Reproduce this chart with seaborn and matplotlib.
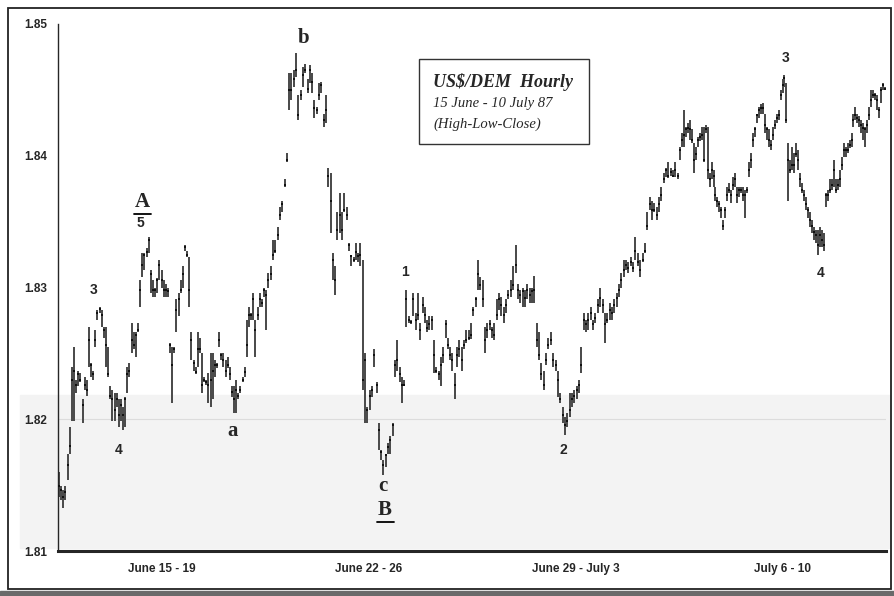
import numpy as np
import pandas as pd
import matplotlib
matplotlib.use("Agg")
import matplotlib.pyplot as plt
import matplotlib.transforms as mtransforms
from matplotlib.patches import Rectangle
from matplotlib.lines import Line2D
import seaborn as sns

# Hourly US$/DEM bars, one list per week (high, low, close)
week_labels = ['June 15 - 19', 'June 22 - 26', 'June 29 - July 3', 'July 6 - 10']

w1_close = [1.8149, 1.8146, 1.8141, 1.8145, 1.8165, 1.8180, 1.8230, 1.8237, 1.8226, 1.8234,
            1.8230, 1.8211, 1.8226, 1.8222, 1.8260, 1.8241, 1.8234, 1.8260, 1.8281, 1.8284,
            1.8279, 1.8268, 1.8256, 1.8234, 1.8218, 1.8215, 1.8207, 1.8215, 1.8203, 1.8211,
            1.8203, 1.8215, 1.8234, 1.8237, 1.8260, 1.8256, 1.8264, 1.8268, 1.8298, 1.8317,
            1.8325, 1.8327, 1.8336, 1.8310, 1.8298, 1.8298, 1.8306, 1.8317, 1.8306, 1.8298,
            1.8298, 1.8297, 1.8256, 1.8241, 1.8253, 1.8283, 1.8291, 1.8298, 1.8310, 1.8331,
            1.8325, 1.8298, 1.8260, 1.8243, 1.8236, 1.8253, 1.8253, 1.8226, 1.8230, 1.8228,
            1.8226, 1.8230, 1.8237, 1.8241, 1.8241, 1.8260, 1.8249, 1.8245, 1.8237, 1.8241,
            1.8234, 1.8221, 1.8215, 1.8222, 1.8218, 1.8222, 1.8230, 1.8236, 1.8256, 1.8279,
            1.8279, 1.8291, 1.8268, 1.8279, 1.8291, 1.8288, 1.8298]
w1_high = [1.8160, 1.8149, 1.8146, 1.8149, 1.8174, 1.8194, 1.8240, 1.8255, 1.8230, 1.8237,
           1.8235, 1.8215, 1.8232, 1.8230, 1.8270, 1.8243, 1.8237, 1.8268, 1.8283, 1.8285,
           1.8283, 1.8270, 1.8270, 1.8255, 1.8225, 1.8222, 1.8220, 1.8220, 1.8215, 1.8215,
           1.8209, 1.8217, 1.8240, 1.8243, 1.8273, 1.8266, 1.8266, 1.8273, 1.8306, 1.8326,
           1.8326, 1.8330, 1.8338, 1.8313, 1.8306, 1.8300, 1.8307, 1.8321, 1.8313, 1.8306,
           1.8303, 1.8300, 1.8258, 1.8255, 1.8255, 1.8291, 1.8296, 1.8306, 1.8316, 1.8332,
           1.8328, 1.8323, 1.8266, 1.8245, 1.8240, 1.8266, 1.8262, 1.8250, 1.8232, 1.8230,
           1.8235, 1.8250, 1.8250, 1.8245, 1.8243, 1.8266, 1.8250, 1.8250, 1.8245, 1.8247,
           1.8240, 1.8225, 1.8225, 1.8230, 1.8220, 1.8225, 1.8232, 1.8240, 1.8275, 1.8285,
           1.8281, 1.8296, 1.8275, 1.8285, 1.8296, 1.8291, 1.8300]
w1_low = [1.8141, 1.8139, 1.8133, 1.8139, 1.8154, 1.8174, 1.8199, 1.8199, 1.8220, 1.8225,
          1.8228, 1.8197, 1.8222, 1.8218, 1.8240, 1.8232, 1.8230, 1.8255, 1.8275, 1.8281,
          1.8270, 1.8262, 1.8240, 1.8232, 1.8215, 1.8199, 1.8199, 1.8209, 1.8194, 1.8199,
          1.8192, 1.8194, 1.8220, 1.8232, 1.8250, 1.8253, 1.8247, 1.8266, 1.8285, 1.8308,
          1.8313, 1.8323, 1.8326, 1.8296, 1.8293, 1.8293, 1.8296, 1.8306, 1.8300, 1.8293,
          1.8293, 1.8293, 1.8250, 1.8212, 1.8250, 1.8266, 1.8278, 1.8296, 1.8300, 1.8328,
          1.8323, 1.8285, 1.8245, 1.8237, 1.8234, 1.8240, 1.8250, 1.8220, 1.8228, 1.8226,
          1.8212, 1.8209, 1.8215, 1.8232, 1.8239, 1.8255, 1.8245, 1.8240, 1.8232, 1.8239,
          1.8230, 1.8217, 1.8205, 1.8205, 1.8215, 1.8220, 1.8228, 1.8232, 1.8247, 1.8270,
          1.8275, 1.8275, 1.8247, 1.8275, 1.8285, 1.8285, 1.8293]

w2_close = [1.8294, 1.8306, 1.8310, 1.8325, 1.8328, 1.8340, 1.8355, 1.8363, 1.8378, 1.8397,
            1.8450, 1.8450, 1.8458, 1.8465, 1.8431, 1.8446, 1.8461, 1.8465, 1.8451, 1.8465,
            1.8456, 1.8436, 1.8435, 1.8446, 1.8454, 1.8427, 1.8435, 1.8385, 1.8366, 1.8321,
            1.8306, 1.8344, 1.8355, 1.8344, 1.8359, 1.8355, 1.8332, 1.8324, 1.8321, 1.8327,
            1.8324, 1.8325, 1.8230, 1.8245, 1.8207, 1.8218, 1.8222, 1.8249, 1.8226, 1.8192,
            1.8175, 1.8165, 1.8173, 1.8179, 1.8184, 1.8196, 1.8241, 1.8245, 1.8234, 1.8226,
            1.8226, 1.8291, 1.8275, 1.8274, 1.8291, 1.8275, 1.8279, 1.8268, 1.8287, 1.8279,
            1.8269, 1.8272, 1.8275, 1.8249, 1.8237, 1.8234, 1.8241, 1.8249, 1.8272, 1.8256,
            1.8249, 1.8245, 1.8226, 1.8249, 1.8253, 1.8245, 1.8256, 1.8260, 1.8262, 1.8264]
w2_high = [1.8298, 1.8311, 1.8316, 1.8336, 1.8336, 1.8346, 1.8361, 1.8366, 1.8382, 1.8402,
           1.8463, 1.8463, 1.8465, 1.8478, 1.8446, 1.8450, 1.8467, 1.8470, 1.8458, 1.8469,
           1.8463, 1.8442, 1.8437, 1.8455, 1.8456, 1.8432, 1.8446, 1.8391, 1.8387, 1.8326,
           1.8316, 1.8357, 1.8372, 1.8357, 1.8372, 1.8361, 1.8334, 1.8325, 1.8323, 1.8334,
           1.8326, 1.8334, 1.8321, 1.8250, 1.8209, 1.8222, 1.8225, 1.8253, 1.8228, 1.8197,
           1.8177, 1.8169, 1.8174, 1.8182, 1.8187, 1.8197, 1.8245, 1.8260, 1.8240, 1.8232,
           1.8230, 1.8298, 1.8278, 1.8275, 1.8296, 1.8281, 1.8296, 1.8273, 1.8293, 1.8285,
           1.8275, 1.8278, 1.8278, 1.8260, 1.8240, 1.8237, 1.8247, 1.8255, 1.8275, 1.8262,
           1.8255, 1.8250, 1.8235, 1.8255, 1.8260, 1.8255, 1.8260, 1.8268, 1.8268, 1.8273]
w2_low = [1.8268, 1.8300, 1.8306, 1.8321, 1.8326, 1.8336, 1.8351, 1.8357, 1.8376, 1.8395,
          1.8435, 1.8442, 1.8452, 1.8460, 1.8427, 1.8442, 1.8452, 1.8463, 1.8448, 1.8455,
          1.8448, 1.8429, 1.8432, 1.8442, 1.8448, 1.8422, 1.8425, 1.8376, 1.8341, 1.8306,
          1.8294, 1.8336, 1.8341, 1.8336, 1.8357, 1.8351, 1.8328, 1.8316, 1.8319, 1.8321,
          1.8319, 1.8316, 1.8222, 1.8197, 1.8197, 1.8207, 1.8217, 1.8240, 1.8220, 1.8177,
          1.8169, 1.8158, 1.8164, 1.8174, 1.8174, 1.8187, 1.8232, 1.8237, 1.8228, 1.8212,
          1.8225, 1.8270, 1.8273, 1.8272, 1.8278, 1.8268, 1.8275, 1.8260, 1.8281, 1.8273,
          1.8266, 1.8268, 1.8268, 1.8235, 1.8235, 1.8230, 1.8225, 1.8243, 1.8262, 1.8253,
          1.8245, 1.8237, 1.8215, 1.8240, 1.8247, 1.8237, 1.8253, 1.8258, 1.8260, 1.8261]

w3_close = [1.8283, 1.8291, 1.8310, 1.8302, 1.8291, 1.8260, 1.8268, 1.8272, 1.8268, 1.8264,
            1.8279, 1.8291, 1.8287, 1.8279, 1.8287, 1.8294, 1.8298, 1.8302, 1.8317, 1.8298,
            1.8294, 1.8297, 1.8292, 1.8298, 1.8294, 1.8297, 1.8298, 1.8260, 1.8249, 1.8234,
            1.8226, 1.8245, 1.8256, 1.8260, 1.8245, 1.8241, 1.8230, 1.8215, 1.8203, 1.8196,
            1.8199, 1.8207, 1.8215, 1.8218, 1.8222, 1.8226, 1.8241, 1.8275, 1.8272, 1.8275,
            1.8281, 1.8272, 1.8277, 1.8287, 1.8292, 1.8287, 1.8272, 1.8275, 1.8283, 1.8281,
            1.8287, 1.8292, 1.8298, 1.8306, 1.8313, 1.8317, 1.8315, 1.8319, 1.8315, 1.8328,
            1.8319, 1.8313, 1.8321, 1.8328, 1.8347, 1.8363, 1.8359, 1.8359, 1.8355, 1.8363,
            1.8370, 1.8382, 1.8389, 1.8385, 1.8388, 1.8385, 1.8389, 1.8385]
w3_high = [1.8285, 1.8293, 1.8321, 1.8308, 1.8306, 1.8270, 1.8273, 1.8275, 1.8270, 1.8273,
           1.8291, 1.8296, 1.8293, 1.8285, 1.8291, 1.8298, 1.8306, 1.8316, 1.8332, 1.8303,
           1.8298, 1.8300, 1.8298, 1.8303, 1.8300, 1.8300, 1.8309, 1.8273, 1.8266, 1.8243,
           1.8237, 1.8250, 1.8262, 1.8266, 1.8250, 1.8245, 1.8237, 1.8220, 1.8209, 1.8202,
           1.8205, 1.8220, 1.8220, 1.8222, 1.8225, 1.8230, 1.8255, 1.8281, 1.8275, 1.8281,
           1.8285, 1.8275, 1.8281, 1.8291, 1.8300, 1.8291, 1.8281, 1.8281, 1.8288, 1.8285,
           1.8291, 1.8296, 1.8303, 1.8311, 1.8321, 1.8321, 1.8319, 1.8323, 1.8319, 1.8338,
           1.8326, 1.8321, 1.8326, 1.8334, 1.8357, 1.8369, 1.8366, 1.8364, 1.8361, 1.8369,
           1.8376, 1.8387, 1.8391, 1.8395, 1.8391, 1.8389, 1.8395, 1.8387]
w3_low = [1.8278, 1.8285, 1.8298, 1.8298, 1.8285, 1.8250, 1.8262, 1.8268, 1.8262, 1.8260,
          1.8275, 1.8283, 1.8278, 1.8273, 1.8281, 1.8291, 1.8293, 1.8298, 1.8311, 1.8291,
          1.8288, 1.8285, 1.8285, 1.8291, 1.8288, 1.8288, 1.8288, 1.8255, 1.8245, 1.8230,
          1.8222, 1.8241, 1.8253, 1.8256, 1.8240, 1.8237, 1.8217, 1.8212, 1.8197, 1.8188,
          1.8194, 1.8202, 1.8209, 1.8212, 1.8215, 1.8220, 1.8235, 1.8268, 1.8266, 1.8268,
          1.8275, 1.8268, 1.8273, 1.8281, 1.8285, 1.8281, 1.8258, 1.8273, 1.8275, 1.8275,
          1.8281, 1.8285, 1.8293, 1.8300, 1.8308, 1.8313, 1.8311, 1.8316, 1.8312, 1.8321,
          1.8316, 1.8308, 1.8319, 1.8326, 1.8344, 1.8359, 1.8351, 1.8357, 1.8351, 1.8357,
          1.8366, 1.8379, 1.8384, 1.8383, 1.8385, 1.8384, 1.8384, 1.8382]

w4_close = [1.8404, 1.8412, 1.8416, 1.8420, 1.8421, 1.8420, 1.8412, 1.8397, 1.8401, 1.8412,
            1.8414, 1.8416, 1.8397, 1.8420, 1.8389, 1.8382, 1.8389, 1.8385, 1.8370, 1.8366,
            1.8363, 1.8359, 1.8347, 1.8359, 1.8370, 1.8374, 1.8370, 1.8378, 1.8382, 1.8370,
            1.8374, 1.8374, 1.8370, 1.8370, 1.8374, 1.8389, 1.8397, 1.8412, 1.8420, 1.8431,
            1.8435, 1.8436, 1.8436, 1.8423, 1.8420, 1.8412, 1.8408, 1.8416, 1.8423, 1.8429,
            1.8431, 1.8446, 1.8454, 1.8459, 1.8427, 1.8397, 1.8389, 1.8393, 1.8393, 1.8401,
            1.8397, 1.8382, 1.8374, 1.8370, 1.8363, 1.8359, 1.8351, 1.8347, 1.8342, 1.8340,
            1.8332, 1.8340, 1.8336, 1.8332, 1.8370, 1.8370, 1.8374, 1.8378, 1.8389, 1.8374,
            1.8378, 1.8382, 1.8393, 1.8404, 1.8404, 1.8404, 1.8408, 1.8412, 1.8427, 1.8431,
            1.8429, 1.8427, 1.8423, 1.8421, 1.8420, 1.8423, 1.8431, 1.8442, 1.8446, 1.8446,
            1.8442, 1.8435, 1.8450, 1.8454, 1.8451]
w4_high = [1.8407, 1.8417, 1.8435, 1.8422, 1.8425, 1.8427, 1.8420, 1.8410, 1.8407, 1.8414,
           1.8417, 1.8422, 1.8422, 1.8423, 1.8422, 1.8387, 1.8395, 1.8389, 1.8376, 1.8369,
           1.8366, 1.8361, 1.8351, 1.8361, 1.8376, 1.8379, 1.8374, 1.8384, 1.8387, 1.8376,
           1.8376, 1.8376, 1.8376, 1.8374, 1.8376, 1.8395, 1.8402, 1.8417, 1.8422, 1.8432,
           1.8437, 1.8439, 1.8440, 1.8432, 1.8422, 1.8420, 1.8412, 1.8422, 1.8427, 1.8432,
           1.8435, 1.8450, 1.8458, 1.8461, 1.8455, 1.8410, 1.8397, 1.8407, 1.8402, 1.8410,
           1.8404, 1.8387, 1.8379, 1.8374, 1.8369, 1.8361, 1.8357, 1.8351, 1.8346, 1.8344,
           1.8344, 1.8346, 1.8344, 1.8341, 1.8372, 1.8374, 1.8382, 1.8382, 1.8397, 1.8382,
           1.8382, 1.8389, 1.8399, 1.8410, 1.8407, 1.8410, 1.8412, 1.8417, 1.8432, 1.8437,
           1.8432, 1.8430, 1.8427, 1.8425, 1.8422, 1.8427, 1.8437, 1.8450, 1.8450, 1.8448,
           1.8446, 1.8437, 1.8452, 1.8455, 1.8452]
w4_low = [1.8397, 1.8407, 1.8407, 1.8414, 1.8417, 1.8412, 1.8410, 1.8387, 1.8397, 1.8407,
          1.8411, 1.8412, 1.8395, 1.8417, 1.8382, 1.8376, 1.8382, 1.8376, 1.8366, 1.8361,
          1.8357, 1.8353, 1.8344, 1.8353, 1.8366, 1.8372, 1.8364, 1.8374, 1.8376, 1.8364,
          1.8369, 1.8372, 1.8366, 1.8353, 1.8372, 1.8384, 1.8391, 1.8407, 1.8414, 1.8425,
          1.8429, 1.8432, 1.8432, 1.8417, 1.8412, 1.8407, 1.8404, 1.8412, 1.8420, 1.8425,
          1.8427, 1.8442, 1.8448, 1.8452, 1.8425, 1.8366, 1.8387, 1.8389, 1.8387, 1.8399,
          1.8389, 1.8376, 1.8372, 1.8366, 1.8359, 1.8353, 1.8346, 1.8341, 1.8336, 1.8334,
          1.8325, 1.8331, 1.8331, 1.8328, 1.8361, 1.8366, 1.8372, 1.8374, 1.8376, 1.8372,
          1.8374, 1.8376, 1.8389, 1.8399, 1.8399, 1.8402, 1.8406, 1.8407, 1.8422, 1.8427,
          1.8425, 1.8422, 1.8417, 1.8412, 1.8407, 1.8417, 1.8427, 1.8437, 1.8444, 1.8442,
          1.8435, 1.8429, 1.8440, 1.8450, 1.8450]

# wave labels: (text, week position, price, style)
wave_labels = [('3', 0.17, 1.8298, 'num'), ('4', 0.295, 1.8177, 'num'),
               ('5', 0.40, 1.8349, 'num'), ('a', 0.845, 1.8191, 'let'),
               ('b', 1.184, 1.8489, 'let'), ('c', 1.57, 1.8149, 'let'),
               ('1', 1.676, 1.8312, 'num'), ('2', 2.44, 1.8177, 'num'),
               ('3', 3.517, 1.8474, 'num'), ('4', 3.686, 1.8311, 'num')]
big_labels = [('A', 0.406, 1.8365), ('B', 1.58, 1.8131)]

# Build one table of bars
weeks = [(w1_high, w1_low, w1_close), (w2_high, w2_low, w2_close),
         (w3_high, w3_low, w3_close), (w4_high, w4_low, w4_close)]
rows = []
for w, (hi, lo, cl) in enumerate(weeks):
    n = len(cl)
    for i in range(n):
        rows.append({'x': w + (i + 0.5) / n, 'high': hi[i], 'low': lo[i], 'close': cl[i]})
df = pd.DataFrame(rows)

sns.set_style('white')
plt.rcParams['font.family'] = ['Liberation Sans', 'DejaVu Sans']

fig = plt.figure(figsize=(8.94, 5.96), dpi=100)

# scanned-page look: light grey lower band, outer frame
fig.patches.append(Rectangle((20 / 894, 48 / 596), 870 / 894, 153 / 596,
                             transform=fig.transFigure, color='#f3f3f3', zorder=-5))
fig.patches.append(Rectangle((8 / 894, 7 / 596), 883 / 894, 581 / 596, transform=fig.transFigure,
                             fill=False, edgecolor='#222222', linewidth=1.3, zorder=1))
fig.patches.append(Rectangle((0, 0), 1, 5 / 596, transform=fig.transFigure,
                             color='#6a6a6a', zorder=1))

ax = fig.add_axes([58 / 894, 45 / 596, 828 / 894, 527 / 596])
ax.set_facecolor('none')
ax.set_zorder(2)

ax.axhline(1.82, color='#dcdcdc', linewidth=0.8, zorder=1)
ax.vlines(df['x'], df['low'], df['high'], color='#484848', linewidth=1.4, zorder=2)
sns.scatterplot(data=df, x='x', y='close', ax=ax, marker='s', s=3, color='#111111',
                linewidth=0, zorder=3, legend=False)

ax.set_xlim(0, 4)
ax.set_ylim(1.81, 1.85)
ax.set_xlabel('')
ax.set_ylabel('')

sns.despine(ax=ax)
ax.spines['left'].set_linewidth(1.0)
ax.spines['bottom'].set_linewidth(2.2)

ax.set_yticks([1.81, 1.82, 1.83, 1.84, 1.85])
ax.set_yticklabels(['1.81', '1.82', '1.83', '1.84', '1.85'], fontsize=8.5, fontweight='bold')
ax.set_yticks([1.815, 1.825, 1.835, 1.845], minor=True)
ax.tick_params(axis='y', which='major', direction='out', length=3, width=1, pad=5)
ax.tick_params(axis='y', which='minor', direction='out', length=2, width=1)
ax.set_xticks([1, 2, 3])
ax.set_xticklabels([])
ax.tick_params(axis='x', direction='out', length=4, width=1)

trans = mtransforms.blended_transform_factory(ax.transData, ax.transAxes)
for w, lab in enumerate(week_labels):
    ax.text(w + 0.5, -0.034, lab, transform=trans, ha='center', va='center',
            fontsize=8.5, fontweight='bold')

for txt, x, y, kind in wave_labels:
    if kind == 'num':
        ax.text(x, y, txt, ha='center', va='center', fontsize=10, fontweight='bold')
    else:
        ax.text(x, y, txt, ha='center', va='center', fontsize=15,
                family='Liberation Serif', fontweight='bold')
for txt, x, y in big_labels:
    ax.text(x, y, txt, ha='center', va='center', fontsize=15,
            family='Liberation Serif', fontweight='bold')

# underline A and B
for x0, x1, yy in [(134, 151, 214), (377, 394, 522)]:
    fig.lines.append(Line2D([x0 / 894, x1 / 894], [(596 - yy) / 596] * 2,
                            transform=fig.transFigure, color='black', linewidth=1.3))

# title box
fig.patches.append(Rectangle((419 / 894, 452 / 596), 170 / 894, 85 / 596, transform=fig.transFigure,
                             fill=False, edgecolor='#333333', linewidth=1.0, zorder=3))
fig.text(433 / 894, (596 - 82) / 596, 'US$/DEM  Hourly', family='Liberation Serif',
         style='italic', fontweight='bold', fontsize=13, va='center')
fig.text(433 / 894, (596 - 104) / 596, '15 June - 10 July 87', family='Liberation Serif',
         style='italic', fontsize=10.5, va='center')
fig.text(433 / 894, (596 - 124) / 596, '(High-Low-Close)', family='Liberation Serif',
         style='italic', fontsize=10.5, va='center')

fig.savefig('out.png', dpi=100)
